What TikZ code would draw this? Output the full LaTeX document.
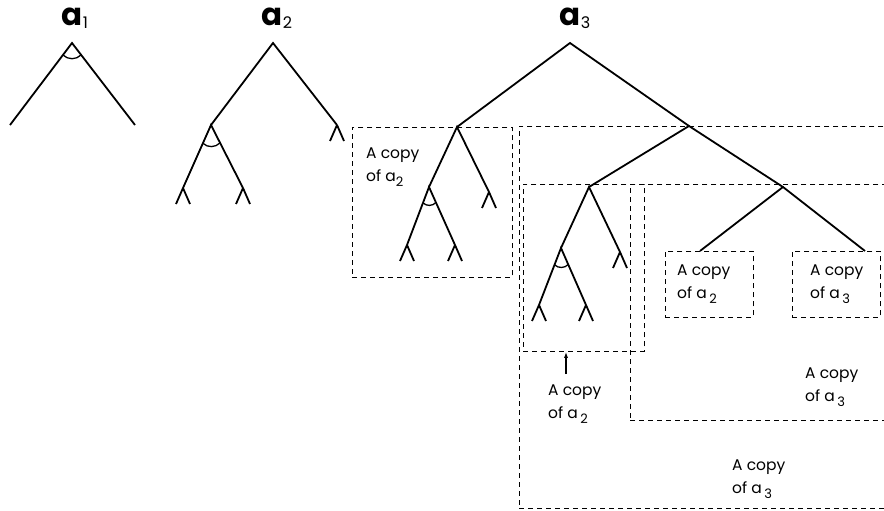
\documentclass[tikz,border=0pt]{standalone}
\usepackage{fontspec}
\setmainfont{Poppins}
\usetikzlibrary{calc,arrows.meta}

\tikzset{
  branch/.style={line width=1.8pt},
  copybox/.style={draw, dash pattern=on 5pt off 4pt, line width=0.8pt, inner sep=0pt, anchor=north west},
  copytext/.style={align=left, anchor=west, inner sep=0pt, font=\fontsize{15.5}{23}\selectfont},
  treelabel/.style={font=\fontsize{31}{31}\selectfont\bfseries},
}
% little fork at the end of a branch
\newcommand{\legs}[1]{\draw[branch] (#1) -- ++(-7,16) (#1) -- ++(7,16);}
% arc across the two branches below a node
\newcommand{\angmark}[4]{\draw[line width=1.3pt] ($(#1)!#4!(#2)$) to[bend right=45] ($(#1)!#4!(#3)$);}
\newcommand{\sub}[1]{\raisebox{-5pt}{\fontsize{13}{13}\selectfont #1}}
\newcommand{\labsub}[1]{\raisebox{-3pt}{\fontsize{16}{16}\selectfont\mdseries #1}}

\begin{document}
\begin{tikzpicture}[x=1pt,y=-1pt]
    \useasboundingbox (0,0) rectangle (884,511);

    % the boxes
    \node[copybox, minimum width=160pt, minimum height=150pt] (boxL) at (352,127) {};
    \node[copybox, minimum width=369pt, minimum height=382pt] (boxBig) at (519,126) {};
    \node[copybox, minimum width=121pt, minimum height=167pt] (boxA) at (523,184) {};
    \node[copybox, minimum width=258pt, minimum height=236pt] (boxB) at (630,184) {};
    \node[copybox, minimum width=88pt, minimum height=66pt] (boxC) at (665,251) {};
    \node[copybox, minimum width=88pt, minimum height=66pt] (boxD) at (792,251) {};

    % a_1
    \node[treelabel] (lab1) at (75,18) {a\labsub{1}};
    \coordinate (r1) at (72,43);
    \coordinate (r1l) at (10,125);
    \coordinate (r1r) at (135,125);
    \draw[branch] (r1l) -- (r1) -- (r1r);
    \angmark{r1}{r1l}{r1r}{15pt}

    % a_2
    \node[treelabel] (lab2) at (277,18) {a\labsub{2}};
    \coordinate (r2) at (273,43);
    \coordinate (c2) at (211,125);
    \coordinate (f2) at (337,125);
    \coordinate (c2l) at (183,188);
    \coordinate (c2r) at (243,188);
    \draw[branch] (c2) -- (r2) -- (f2);
    \draw[branch] (c2l) -- (c2) -- (c2r);
    \angmark{c2}{c2l}{c2r}{20pt}
    \foreach \p in {f2,c2l,c2r} {\legs{\p}}

    % a_3
    \node[treelabel] (lab3) at (575,18) {a\labsub{3}};
    \coordinate (r3) at (570,43);
    \coordinate (L) at (457,127);
    \coordinate (R) at (689,126);
    \draw[branch] (L) -- (r3) -- (R);

    % left: a copy of a_2
    \coordinate (Lc) at (429,187);
    \coordinate (Lf) at (489,192);
    \coordinate (Lcl) at (407,245);
    \coordinate (Lcr) at (455,245);
    \draw[branch] (Lc) -- (L) -- (Lf);
    \draw[branch] (Lcl) -- (Lc) -- (Lcr);
    \angmark{Lc}{Lcl}{Lcr}{17pt}
    \foreach \p in {Lf,Lcl,Lcr} {\legs{\p}}

    % right: a copy of a_3
    \coordinate (RL) at (589,187);
    \coordinate (RR) at (783,187);
    \draw[branch] (RL) -- (R) -- (RR);
    \coordinate (RLc) at (561,248);
    \coordinate (RLf) at (620,252);
    \coordinate (RLcl) at (539,305);
    \coordinate (RLcr) at (586,305);
    \draw[branch] (RLc) -- (RL) -- (RLf);
    \draw[branch] (RLcl) -- (RLc) -- (RLcr);
    \angmark{RLc}{RLcl}{RLcr}{18pt}
    \foreach \p in {RLf,RLcl,RLcr} {\legs{\p}}
    \coordinate (RRl) at (700,251);
    \coordinate (RRr) at (865,251);
    \draw[branch] (RRl) -- (RR) -- (RRr);

    % texts
    \node[copytext] (txtL) at (366,167) {A copy\\of a\sub{2}};
    \node[copytext] (txtA) at (548,404) {A copy\\of a\,\sub{2}};
    \node[copytext] (txtB) at (805,387) {A copy\\of a\,\sub{3}};
    \node[copytext] (txtBig) at (732,479) {A copy\\of a\,\sub{3}};
    \node[copytext] (txtC) at (677,284) {A copy\\of a\,\sub{2}};
    \node[copytext] (txtD) at (810,284) {A copy\\of a\,\sub{3}};

    \coordinate (arrA) at (566,374);
    \draw[-{Latex[length=6pt,width=4pt]}, line width=1.2pt] (arrA) -- (arrA |- boxA.south);
\end{tikzpicture}
\end{document}
